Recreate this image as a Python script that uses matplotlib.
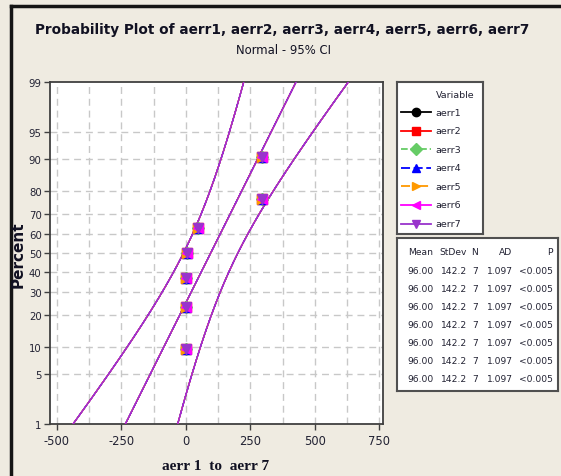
import matplotlib
matplotlib.use('Agg')
import matplotlib.pyplot as plt
from matplotlib import font_manager
from matplotlib.lines import Line2D
import numpy as np
from statistics import NormalDist

# ---------------- data ----------------
series_names = ['aerr1', 'aerr2', 'aerr3', 'aerr4', 'aerr5', 'aerr6', 'aerr7']
series_colors = ['#000000', '#FF0000', '#66CC66', '#0000FF', '#FF9900', '#FF00FF', '#9933CC']
series_markers = ['o', 's', 'D', '^', '>', '<', 'v']
series_ls = ['-', '-', '--', (0, (5, 2)), (0, (5, 2, 1, 2)), '-', '-']
point_values = [0, 0, 0, 5, 45, 295, 296]
point_percents = [9.5, 23, 36.5, 50, 63.5, 77, 90.5]
means = [96.00] * 7
stdevs = [142.2] * 7
ns = [7] * 7
ads = [1.097] * 7
pvals = ['<0.005'] * 7
ytick_pct = [1, 5, 10, 20, 30, 40, 50, 60, 70, 80, 90, 95, 99]
xtick_vals = [-500, -250, 0, 250, 500, 750]
xgrid_vals = [-500, -375, -250, -125, 0, 125, 250, 375, 500, 625, 750]
ci_level = 95

names = {f.name for f in font_manager.fontManager.ttflist}
NARROW = 'Liberation Sans Narrow' if 'Liberation Sans Narrow' in names else 'DejaVu Sans'
SERIF = 'Liberation Serif' if 'Liberation Serif' in names else 'DejaVu Serif'

W, H = 561, 477
BG = '#EFEBE1'
fig = plt.figure(figsize=(W / 100, H / 100), dpi=100, facecolor=BG)


def fx(px):
    return px / W


def fy(py):
    return 1 - py / H


nd = NormalDist()


def zq(p):
    return nd.inv_cdf(p / 100.0)


# ---------------- main axes ----------------
ax = fig.add_axes([fx(50), fy(425), (383 - 50) / W, (425 - 83) / H])
ax.set_facecolor('white')

zz = np.linspace(zq(ytick_pct[0]), zq(ytick_pct[-1]), 300)
zcrit = nd.inv_cdf(0.5 + ci_level / 200.0)
for i in range(len(series_names)):
    m, s, n = means[i], stdevs[i], ns[i]
    center = m + s * zz
    hw = zcrit * s / np.sqrt(n) * np.sqrt(1 + zz ** 2 / 2)
    for xs in (center, center - hw, center + hw):
        ax.plot(xs, zz, color=series_colors[i], ls=series_ls[i], lw=0.9, zorder=3)
for i in range(len(series_names)):
    ax.plot(point_values, [zq(p) for p in point_percents], ls='none',
            marker=series_markers[i], ms=6.5, color=series_colors[i],
            mec=series_colors[i], zorder=4)

gcol = '#C8C8C8'
for xv in xgrid_vals:
    ax.axvline(xv, color=gcol, lw=1.0, dashes=(5, 3.5), zorder=1)
for p in ytick_pct[1:-1]:
    ax.axhline(zq(p), color=gcol, lw=1.0, dashes=(5, 3.5), zorder=1)

ax.set_xlim(-527, 764)
ax.set_ylim(zq(ytick_pct[0]), zq(ytick_pct[-1]))
ax.set_yticks([zq(p) for p in ytick_pct])
ax.set_yticklabels([str(p) for p in ytick_pct])
ax.set_xticks(xtick_vals)
ax.set_xticklabels([str(v) for v in xtick_vals])
ax.tick_params(direction='out', length=4, width=1, color='#404040',
               labelcolor='#222233', pad=2)
ax.tick_params(axis='y', labelsize=7.3)
ax.tick_params(axis='x', labelsize=8.3, pad=3)
for lab in ax.get_xticklabels() + ax.get_yticklabels():
    lab.set_family(NARROW)
for sp in ax.spines.values():
    sp.set_color('#404040')
    sp.set_linewidth(1.3)

# ---------------- legend box ----------------
lg = fig.add_axes([fx(397), fy(235), (483 - 397) / W, (235 - 83) / H])
lg.set_xlim(397, 483)
lg.set_ylim(235, 83)
lg.set_xticks([])
lg.set_yticks([])
for sp in lg.spines.values():
    sp.set_color('#505050')
    sp.set_linewidth(1.5)
lg.text(455, 95, 'Variable', ha='center', va='center', fontsize=6.8, family=NARROW, color='#222233')
for i, nm in enumerate(series_names):
    y = 113 + i * 18.6
    lg.plot([401, 431], [y, y], color=series_colors[i], ls=series_ls[i], lw=1.3)
    lg.plot([416], [y], marker=series_markers[i], ms=6, color=series_colors[i])
    lg.text(435, y, nm, ha='left', va='center', fontsize=6.8, family=NARROW, color='#222233')

# ---------------- stats box ----------------
st = fig.add_axes([fx(397), fy(392), (558 - 397) / W, (392 - 239) / H])
st.set_xlim(397, 558)
st.set_ylim(392, 239)
st.set_xticks([])
st.set_yticks([])
for sp in st.spines.values():
    sp.set_color('#505050')
    sp.set_linewidth(1.5)
hdr_y = 253
tk = dict(fontsize=6.6, family=NARROW, color='#222233', va='center')
st.text(421, hdr_y, 'Mean', ha='center', **tk)
st.text(453, hdr_y, 'StDev', ha='center', **tk)
st.text(475, hdr_y, 'N', ha='center', **tk)
st.text(512, hdr_y, 'AD', ha='right', **tk)
st.text(553, hdr_y, 'P', ha='right', **tk)
for i in range(len(series_names)):
    y = 272 + i * 18
    st.text(421, y, f'{means[i]:.2f}', ha='center', **tk)
    st.text(454, y, f'{stdevs[i]:.1f}', ha='center', **tk)
    st.text(475, y, f'{ns[i]}', ha='center', **tk)
    st.text(513, y, f'{ads[i]:.3f}', ha='right', **tk)
    st.text(553, y, pvals[i], ha='right', **tk)

# ---------------- texts ----------------
title = fig.text(fx(282), fy(30), 'Probability Plot of ' + ', '.join(series_names),
                 ha='center', va='center', fontsize=13, fontweight='bold',
                 family=NARROW, color='#111122')
sub = fig.text(fx(284), fy(51), f'Normal - {ci_level}% CI', ha='center', va='center',
               fontsize=9, family=NARROW, color='#111122')
ylab = fig.text(fx(18), fy(255), 'Percent', ha='center', va='center', rotation=90,
                fontsize=11, fontweight='bold', color='#111122')
xlab = fig.text(fx(216), fy(467), 'aerr 1  to  aerr 7', ha='center', va='center',
                fontsize=11, fontweight='bold', family=SERIF, color='#111122')

fig.canvas.draw()
r = fig.canvas.get_renderer()
for t, target in ((title, 492), (sub, 95), (xlab, 107)):
    bb = t.get_window_extent(r)
    t.set_fontsize(t.get_fontsize() * target / bb.width)

# frame border
fig.add_artist(Line2D([fx(11), fx(11)], [fy(7), 0], transform=fig.transFigure,
                      color='#151515', lw=2.5))
fig.add_artist(Line2D([fx(11), 1], [fy(7), fy(7)], transform=fig.transFigure,
                      color='#151515', lw=2.5))

fig.savefig('out.png', dpi=100, facecolor=BG)
